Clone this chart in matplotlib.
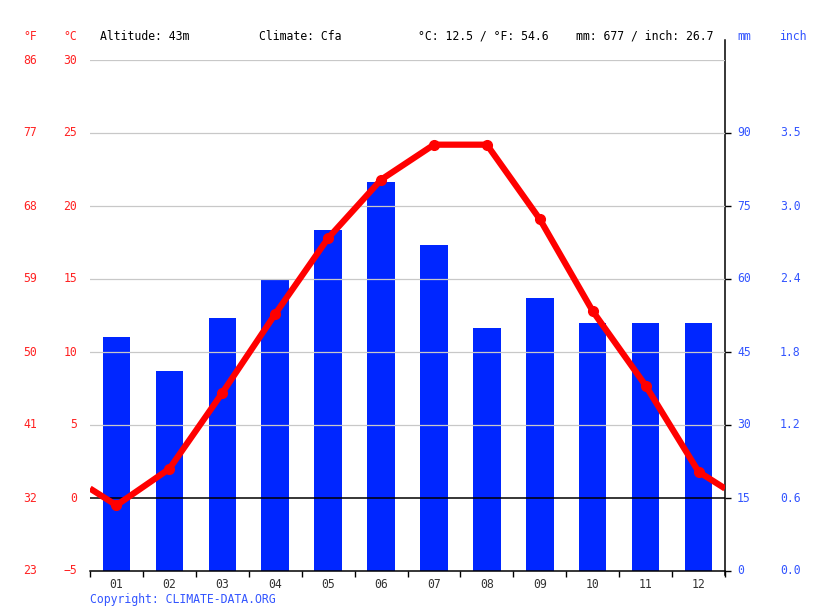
import matplotlib
matplotlib.use("Agg")
import matplotlib.pyplot as plt
import matplotlib.transforms as mtransforms
import numpy as np

months = ["01", "02", "03", "04", "05", "06", "07", "08", "09", "10", "11", "12"]
temp_c = [-0.5, 2.0, 7.2, 12.6, 17.8, 21.8, 24.2, 24.2, 19.1, 12.8, 7.7, 1.8]
precip_mm = [48, 41, 52, 60, 70, 80, 67, 50, 56, 51, 51, 51]
c_ticks = [30, 25, 20, 15, 10, 5, 0, -5]
f_labels = ["86", "77", "68", "59", "50", "41", "32", "23"]
mm_ticks = [90, 75, 60, 45, 30, 15, 0]
inch_labels = ["3.5", "3.0", "2.4", "1.8", "1.2", "0.6", "0.0"]
header_left = "Altitude: 43m"
header_mid = "Climate: Cfa"
header_t = "°C: 12.5 / °F: 54.6"
header_p = "mm: 677 / inch: 26.7"

FONT = "DejaVu Sans Mono"
FS = 8.3
RED = "#ff0000"
LRED = "#ff2222"
BLUE = "#0026ff"
LBLUE = "#3355ff"
W, H = 815, 611

fig = plt.figure(figsize=(W / 100, H / 100), dpi=100)
ax = fig.add_axes([90 / W, 1 - 571 / H, 635 / W, 511 / H])
ax.set_xlim(0, 12)
ax.set_ylim(0, 105)
x = np.arange(12) + 0.5
ax.bar(x, precip_mm, width=0.52, color=BLUE, zorder=2)

ax2 = ax.twinx()
ax2.set_ylim(-5, 30)
ax2.set_xlim(0, 12)
edge = (temp_c[0] + temp_c[-1]) / 2
xl = np.concatenate([[0], x, [12]])
yl = np.concatenate([[edge], temp_c, [edge]])
ax2.plot(xl, yl, color=RED, lw=4.5, zorder=5, solid_capstyle="butt")
ax2.plot(x, temp_c, "o", color=RED, ms=7, zorder=6)

# grid
for c in c_ticks:
    if c == 0:
        ax2.axhline(0, color="black", lw=1.1, zorder=3)
    elif c != -5:
        ax2.axhline(c, color="#c8c8c8", lw=0.9, zorder=1)

for a in (ax, ax2):
    for s in ["left", "top", "right"]:
        a.spines[s].set_visible(False)
ax2.spines["bottom"].set_visible(False)
ax.spines["bottom"].set_color("black")
ax.spines["bottom"].set_linewidth(1.1)
ax2.tick_params(left=False, right=False, labelleft=False, labelright=False, bottom=False, labelbottom=False)
ax.set_yticks(mm_ticks)
ax.tick_params(axis="y", left=False, labelleft=False, right=True, labelright=False,
               length=4, width=1, color="black", direction="out")

# right vertical line extending above plot
ax.plot([1, 1], [-0.008, 1.04], transform=ax.transAxes, color="black", lw=1.1, clip_on=False, zorder=4)

ax.set_xticks(np.arange(13))
ax.set_xticklabels([])
ax.tick_params(axis="x", length=4, width=1, color="black", direction="out")
ax.set_xticks(x, minor=True)
ax.set_xticklabels(months, minor=True, fontfamily=FONT, fontsize=FS, color="#333333")
ax.tick_params(axis="x", which="minor", length=0, pad=5)

# left labels
tl = mtransforms.blended_transform_factory(fig.transFigure, ax2.transData)
for c, f in zip(c_ticks, f_labels):
    ax2.text(37 / W, c, f, transform=tl, ha="right", va="center", fontfamily=FONT, fontsize=FS, color=LRED)
    ax2.text(77 / W, c, str(c) if c >= 0 else "\u22125", transform=tl, ha="right", va="center",
             fontfamily=FONT, fontsize=FS, color=LRED)

# right labels
tr = mtransforms.blended_transform_factory(fig.transFigure, ax.transData)
for m, inch in zip(mm_ticks, inch_labels):
    ax.text(737 / W, m, str(m), transform=tr, ha="left", va="center", fontfamily=FONT, fontsize=FS, color=LBLUE)
    ax.text(780 / W, m, inch, transform=tr, ha="left", va="center", fontfamily=FONT, fontsize=FS, color=LBLUE)

# header
hy = 1 - 36 / H
fig.text(37 / W, hy, "°F", ha="right", va="center", fontfamily=FONT, fontsize=FS, color=LRED)
fig.text(77 / W, hy, "°C", ha="right", va="center", fontfamily=FONT, fontsize=FS, color=LRED)
fig.text(100 / W, hy, header_left, ha="left", va="center", fontfamily=FONT, fontsize=FS, color="black")
fig.text(259 / W, hy, header_mid, ha="left", va="center", fontfamily=FONT, fontsize=FS, color="black")
fig.text(418 / W, hy, header_t, ha="left", va="center", fontfamily=FONT, fontsize=FS, color="black")
fig.text(576 / W, hy, header_p, ha="left", va="center", fontfamily=FONT, fontsize=FS, color="black")
fig.text(737 / W, hy, "mm", ha="left", va="center", fontfamily=FONT, fontsize=FS, color=LBLUE)
fig.text(779 / W, hy, "inch", ha="left", va="center", fontfamily=FONT, fontsize=FS, color=LBLUE)

fig.text(90 / W, 1 - 599 / H, "Copyright: CLIMATE-DATA.ORG", ha="left", va="center",
         fontfamily=FONT, fontsize=FS, color=LBLUE)

fig.savefig("out.png", dpi=100)
